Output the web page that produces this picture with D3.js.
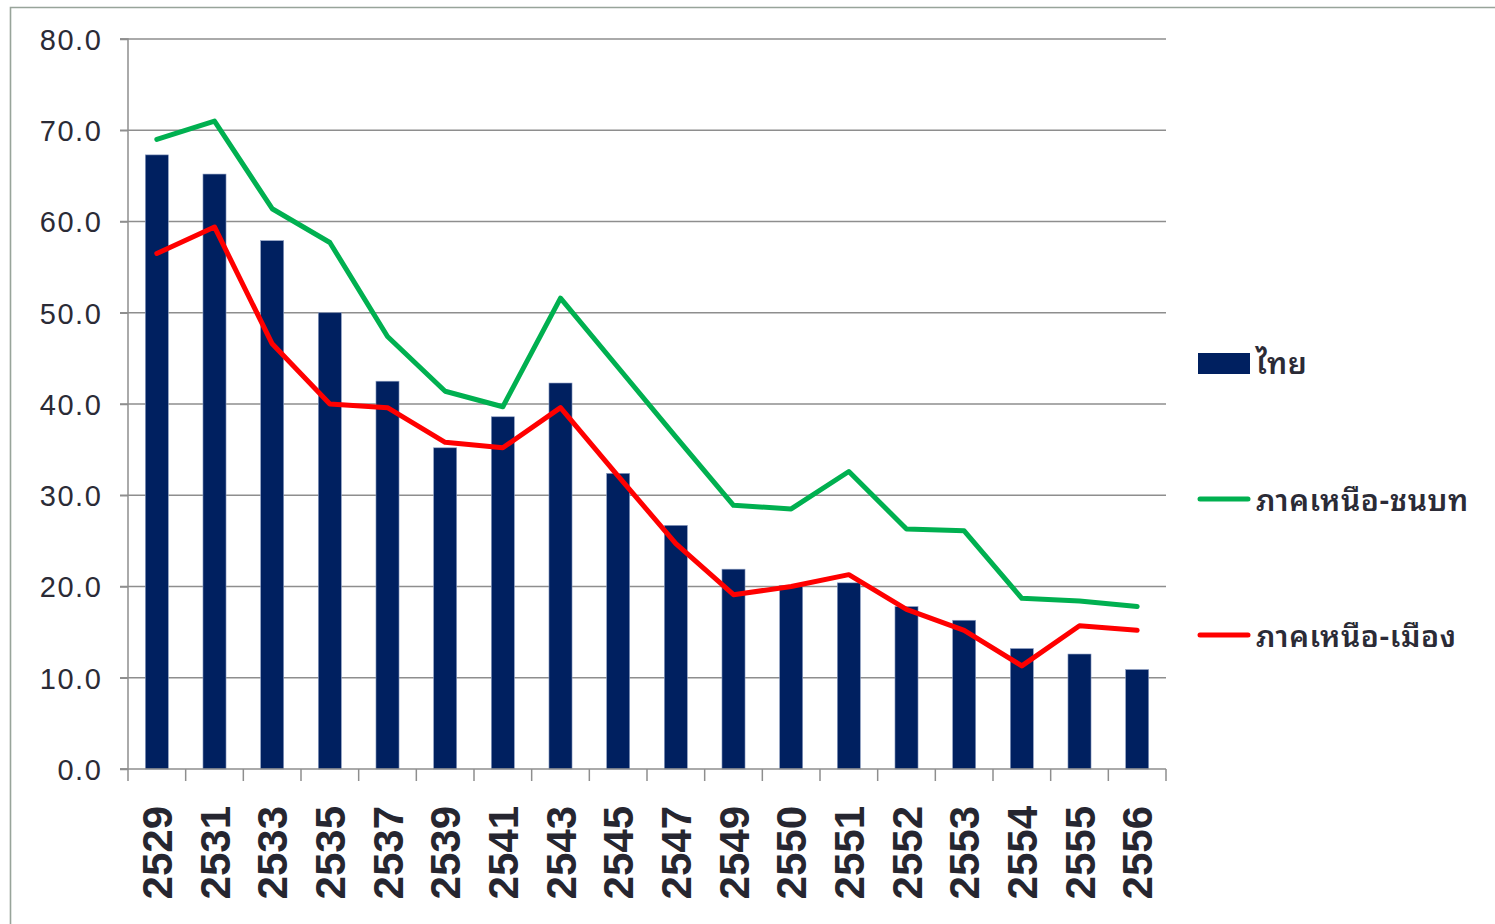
<!DOCTYPE html>
<html>
<head>
<meta charset="utf-8">
<script src="https://cdn.jsdelivr.net/npm/d3@7"></script>
<style>
  html, body { margin: 0; padding: 0; background: #fff; }
  svg { display: block; }
</style>
</head>
<body>
<svg id="chart" width="1495" height="924"></svg>
<script>
const categories = ["2529","2531","2533","2535","2537","2539","2541","2543","2545","2547","2549","2550","2551","2552","2553","2554","2555","2556"];
const thaiValues  = [67.3, 65.2, 57.9, 50.0, 42.5, 35.2, 38.6, 42.3, 32.4, 26.7, 21.9, 20.1, 20.4, 17.8, 16.3, 13.2, 12.6, 10.9];
const ruralValues = [69.0, 71.0, 61.4, 57.7, 47.4, 41.4, 39.7, 51.6, 44.0, 36.4, 28.9, 28.5, 32.6, 26.3, 26.1, 18.7, 18.4, 17.8];
const urbanValues = [56.5, 59.4, 46.6, 40.0, 39.6, 35.8, 35.2, 39.6, 32.1, 24.7, 19.1, 20.0, 21.3, 17.5, 15.2, 11.3, 15.7, 15.2];
const yTicks = [0, 10, 20, 30, 40, 50, 60, 70, 80];
const seriesNames = ["ไทย", "ภาคเหนือ-ชนบท", "ภาคเหนือ-เมือง"];

(function () {
const svg = d3.select("#chart");
const pLeft = 128, pRight = 1166, pTop = 39, pBottom = 769;

// outer frame
svg.append("path")
  .attr("d", `M10.5,924 L10.5,7.5 L1495,7.5`)
  .attr("fill", "none").attr("stroke", "#98a49a").attr("stroke-width", 1.6);

const x = d3.scaleBand().domain(categories).range([pLeft, pRight]).padding(0);
const y = d3.scaleLinear().domain([0, 80]).range([pBottom, pTop]);

// gridlines
svg.append("g").selectAll("line").data(yTicks.filter(d => d > 0)).join("line")
  .attr("x1", pLeft - 8).attr("x2", pRight)
  .attr("y1", d => y(d)).attr("y2", d => y(d))
  .attr("stroke", "#8e8e8e").attr("stroke-width", 1.5);

// y axis
const yAxis = d3.axisLeft(y).tickValues(yTicks).tickSize(8).tickPadding(17.5)
  .tickFormat(d3.format(".1f"));
const gy = svg.append("g").attr("transform", `translate(${pLeft},0)`).call(yAxis);
gy.select(".domain").attr("stroke", "#8e8e8e").attr("stroke-width", 1.5).attr("d", `M-8,${pBottom}H0V${pTop}H-8`);
gy.selectAll(".tick line").attr("stroke", "#8e8e8e").attr("stroke-width", 1.5);
gy.selectAll(".tick text")
  .attr("fill", "#2b2b36")
  .style("font-family", "'Liberation Sans', Arial, sans-serif")
  .style("font-size", "29px")
  .style("letter-spacing", "1.6px")
  .attr("dy", "0.36em");

// bars
const barW = x.bandwidth() * 0.4;
svg.append("g").selectAll("rect").data(categories).join("rect")
  .attr("x", (d) => x(d) + x.bandwidth() / 2 - barW / 2)
  .attr("width", barW)
  .attr("y", (d, i) => y(thaiValues[i]))
  .attr("height", (d, i) => y(0) - y(thaiValues[i]))
  .attr("fill", "#002060")
  .attr("stroke", "#8fa0c4").attr("stroke-width", 0.6);

// x axis
const xAxis = d3.axisBottom(x).tickSize(0).tickFormat("");
const gx = svg.append("g").attr("transform", `translate(0,${pBottom})`).call(xAxis);
gx.select(".domain").attr("stroke", "#8e8e8e").attr("stroke-width", 1.5).attr("d", `M${pLeft - 8},0H${pRight}`);
gx.selectAll(".tick").remove();
const boundaries = categories.map(c => x(c)).concat([pRight]);
svg.append("g").selectAll("line").data(boundaries).join("line")
  .attr("x1", d => d).attr("x2", d => d)
  .attr("y1", pBottom).attr("y2", pBottom + 12)
  .attr("stroke", "#8e8e8e").attr("stroke-width", 1.5);

svg.append("g").selectAll("text").data(categories).join("text")
  .attr("transform", d => `translate(${x(d) + x.bandwidth() / 2},806) rotate(-90)`)
  .attr("text-anchor", "end")
  .attr("dy", "0.36em")
  .attr("fill", "#262630")
  .style("font-family", "'Liberation Sans', Arial, sans-serif")
  .style("font-size", "42px")
  .style("font-weight", "bold")
  .text(d => d);

// lines
const cx = d => x(d) + x.bandwidth() / 2;
const lineGen = vals => d3.line().x((d) => cx(d)).y((d, i) => y(vals[i]))(categories);
svg.append("path").attr("d", lineGen(ruralValues))
  .attr("fill", "none").attr("stroke", "#00b050").attr("stroke-width", 5)
  .attr("stroke-linejoin", "round").attr("stroke-linecap", "round");
svg.append("path").attr("d", lineGen(urbanValues))
  .attr("fill", "none").attr("stroke", "#ff0000").attr("stroke-width", 5)
  .attr("stroke-linejoin", "round").attr("stroke-linecap", "round");

// legend
const lg = svg.append("g");
const legendFont = "'Noto Sans Thai Looped', 'Noto Sans Thai', 'Noto Sans', 'DejaVu Sans', sans-serif";
lg.append("rect").attr("x", 1198).attr("y", 353).attr("width", 52).attr("height", 21).attr("fill", "#002060");
lg.append("line").attr("x1", 1200).attr("x2", 1248).attr("y1", 499).attr("y2", 499)
  .attr("stroke", "#00b050").attr("stroke-width", 5).attr("stroke-linecap", "round");
lg.append("line").attr("x1", 1200).attr("x2", 1248).attr("y1", 635).attr("y2", 635)
  .attr("stroke", "#ff0000").attr("stroke-width", 5).attr("stroke-linecap", "round");
const legendY = [374, 511, 647];
lg.selectAll("text").data(seriesNames).join("text")
  .attr("x", 1256).attr("y", (d, i) => legendY[i])
  .attr("fill", "#2b2b36")
  .style("font-family", legendFont)
  .style("font-size", "30px")
  .style("font-weight", "600")
  .style("letter-spacing", "0.6px")
  .text(d => d);
})();
</script>
</body>
</html>
